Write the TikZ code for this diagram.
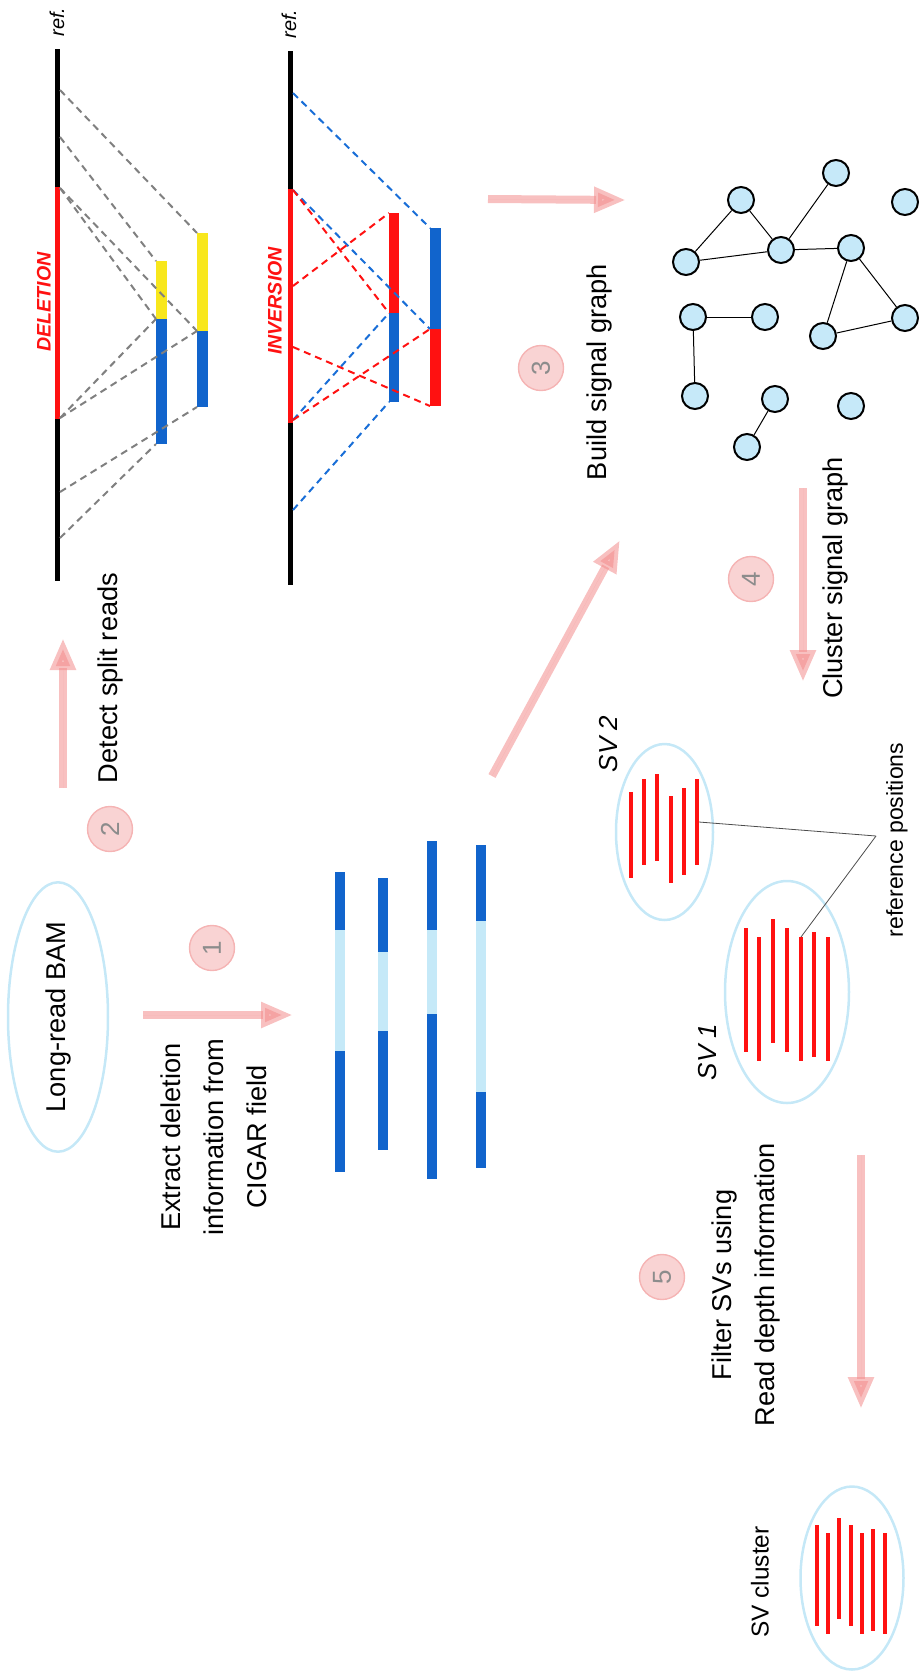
\documentclass[tikz,border=0pt]{standalone}
\usepackage{fontspec}
\setmainfont{Liberation Sans}
\usetikzlibrary{shapes.geometric,arrows.meta}
\definecolor{dblue}{RGB}{17,100,204}
\definecolor{lblue}{RGB}{197,233,248}
\definecolor{yel}{RGB}{248,231,28}
\definecolor{sred}{RGB}{255,17,17}
\definecolor{ellc}{RGB}{197,232,247}
\definecolor{gfill}{RGB}{198,233,249}
\definecolor{pinkc}{RGB}{242,140,140}
\definecolor{numfill}{RGB}{249,211,211}
\definecolor{numdraw}{RGB}{245,180,180}
\definecolor{numtext}{RGB}{140,140,140}
\definecolor{dgray}{RGB}{128,128,128}
\definecolor{dashblue}{RGB}{25,110,215}
\begin{document}
\begin{tikzpicture}[x=0.5pt,y=-0.5pt,
  txt/.style={rotate=90, font=\fontsize{13.6}{21.5}\selectfont, align=center, inner sep=0pt},
  smalltxt/.style={rotate=90, font=\fontsize{11.5}{14}\selectfont, inner sep=0pt},
  svlabel/.style={rotate=90, font=\fontsize{13}{14}\selectfont\itshape, inner sep=0pt},
  reflabel/.style={rotate=90, font=\fontsize{10}{12}\selectfont\itshape, inner sep=0pt},
  svname/.style={rotate=90, text=sred, font=\fontsize{9.8}{12}\selectfont\bfseries\itshape, inner sep=0pt},
  num/.style={circle, draw=numdraw, fill=numfill, line width=0.7pt, minimum size=22.5pt, inner sep=0pt, rotate=90, text=numtext, font=\fontsize{13}{13}\selectfont},
  gnode/.style={circle, draw=black, line width=1pt, fill=gfill, minimum size=13pt, inner sep=0pt},
  gedge/.style={line width=0.5pt},
  refline/.style={line width=2.5pt},
  dlink/.style={line width=1pt, dash pattern=on 3.5pt off 2.5pt},
  pinkarrow/.style={line width=4pt, draw=pinkc, fill=pinkc, opacity=0.55, -{Triangle[length=16pt,width=12pt]}},
  ellip/.style={ellipse, draw=ellc, line width=1.25pt, inner sep=0pt},
  svbar/.style={line width=2pt, draw=sred},
  cigar/.style={line width=4.6pt},
  leader/.style={line width=0.4pt, draw=black!70}
]
\useasboundingbox (0,0) rectangle (919,1677);

% ---------------- Deletion panel ----------------
\coordinate (dtop) at (57,49); \coordinate (dbot) at (57,581);
\coordinate (dsa) at (57,187); \coordinate (dea) at (57,419);
\draw[refline] (dtop) -- (dbot);
\draw[refline, draw=sred] (dsa) -- (dea);
\node[reflabel] (ref1) at (57,22) {ref.};
\node[svname] (del) at (44,302) {DELETION};
% reads
\fill[yel] (156,261) rectangle (167,319);
\fill[dblue] (156,319) rectangle (167,444);
\fill[yel] (197,233) rectangle (208,331);
\fill[dblue] (197,331) rectangle (208,407);
\coordinate (d1a) at (156,261); \coordinate (d1b) at (156,319); \coordinate (d1c) at (156,444);
\coordinate (d2a) at (197,233); \coordinate (d2b) at (197,331); \coordinate (d2c) at (197,407);
\coordinate (r1) at (60,90); \coordinate (r2) at (60,137); \coordinate (ds) at (60,188);
\coordinate (de) at (60,418); \coordinate (r3) at (60,492); \coordinate (r4) at (60,538);
\begin{scope}[dlink, draw=dgray]
\draw (r1) -- (d2a);
\draw (r2) -- (d1a);
\draw (ds) -- (d1b);
\draw (ds) -- (d2b);
\draw (de) -- (d1b);
\draw (de) -- (d2b);
\draw (r3) -- (d2c);
\draw (r4) -- (d1c);
\end{scope}

% ---------------- Inversion panel ----------------
\coordinate (itop) at (290,51); \coordinate (ibot) at (290,585);
\coordinate (isa) at (290,189); \coordinate (iea) at (290,423);
\draw[refline] (itop) -- (ibot);
\draw[refline, draw=sred] (isa) -- (iea);
\node[reflabel] (ref2) at (289,24) {ref.};
\node[svname] (inv) at (275,301) {INVERSION};
\fill[sred] (389,213) rectangle (399,313);
\fill[dblue] (389,313) rectangle (399,402);
\fill[dblue] (430,228) rectangle (441,329);
\fill[sred] (430,329) rectangle (441,406);
\coordinate (v1a) at (389,213); \coordinate (v1b) at (389,313); \coordinate (v1c) at (389,402);
\coordinate (v2a) at (430,228); \coordinate (v2b) at (430,329); \coordinate (v2c) at (430,406);
\coordinate (i1) at (293,93); \coordinate (is) at (293,190); \coordinate (i2) at (293,286);
\coordinate (i3) at (293,347); \coordinate (ie) at (293,420); \coordinate (i4) at (293,510);
\begin{scope}[dlink]
\draw[draw=dashblue] (i1) -- (v2a);
\draw[draw=dashblue] (is) -- (v2b);
\draw[draw=dashblue] (ie) -- (v1b);
\draw[draw=dashblue] (i4) -- (v1c);
\draw[draw=sred] (is) -- (v1b);
\draw[draw=sred] (i2) -- (v1a);
\draw[draw=sred] (i3) -- (v2c);
\draw[draw=sred] (ie) -- (v2b);
\end{scope}

% ---------------- Step texts and numbers ----------------
\node[ellip, rotate=90, minimum width=125pt, minimum height=50pt, font=\fontsize{13.6}{16}\selectfont] (bam) at (58,1017) {Long-read BAM};
\node[num] (c1) at (212,948) {1};
\node[num] (c2) at (110,829) {2};
\node[num] (c3) at (541,368) {3};
\node[num] (c4) at (751,579) {4};
\node[num] (c5) at (662,1277) {5};
\node[txt] (t1) at (214,1137) {Extract deletion\\information from\\CIGAR field};
\node[txt] (t2) at (110,678) {Detect split reads};
\node[txt] (t3) at (599,372) {Build signal graph};
\node[txt] (t4) at (835,578) {Cluster signal graph};
\node[txt] (t5) at (746,1285) {Filter SVs using\\Read depth information};

% ---------------- Pink arrows ----------------
\coordinate (a1s) at (143,1015); \coordinate (a1e) at (293,1015);
\coordinate (a2s) at (63,788);   \coordinate (a2e) at (63,638);
\coordinate (a3s) at (488,199);  \coordinate (a3e) at (626,200);
\coordinate (a6s) at (492,776);  \coordinate (a6e) at (620,540);
\coordinate (a4s) at (803,488);  \coordinate (a4e) at (803,682);
\coordinate (a5s) at (861,1155); \coordinate (a5e) at (861,1409);
\draw[pinkarrow] (a1s) -- (a1e);
\draw[pinkarrow] (a2s) -- (a2e);
\draw[pinkarrow] (a3s) -- (a3e);
\draw[pinkarrow] (a6s) -- (a6e);
\draw[pinkarrow] (a4s) -- (a4e);
\draw[pinkarrow] (a5s) -- (a5e);

% ---------------- CIGAR reads ----------------
\draw[cigar, dblue] (340,872) -- (340,930);
\draw[cigar, lblue] (340,930) -- (340,1051);
\draw[cigar, dblue] (340,1051) -- (340,1172);
\draw[cigar, dblue] (383,878) -- (383,952);
\draw[cigar, lblue] (383,952) -- (383,1031);
\draw[cigar, dblue] (383,1031) -- (383,1150);
\draw[cigar, dblue] (432,841) -- (432,930);
\draw[cigar, lblue] (432,930) -- (432,1014);
\draw[cigar, dblue] (432,1014) -- (432,1179);
\draw[cigar, dblue] (481,845) -- (481,921);
\draw[cigar, lblue] (481,921) -- (481,1092);
\draw[cigar, dblue] (481,1092) -- (481,1168);

% ---------------- Signal graph ----------------
\node[gnode] (n1) at (836,173) {};
\node[gnode] (n2) at (741,200) {};
\node[gnode] (n3) at (905,202) {};
\node[gnode] (n4) at (781,250) {};
\node[gnode] (n5) at (851,248) {};
\node[gnode] (n6) at (686,262) {};
\node[gnode] (n7) at (693,317) {};
\node[gnode] (n8) at (765,317) {};
\node[gnode] (n9) at (905,318) {};
\node[gnode] (n10) at (823,336) {};
\node[gnode] (n11) at (695,396) {};
\node[gnode] (n12) at (775,399) {};
\node[gnode] (n13) at (851,406) {};
\node[gnode] (n14) at (747,447) {};
\draw[gedge] (n6) -- (n2);
\draw[gedge] (n2) -- (n4);
\draw[gedge] (n4) -- (n1);
\draw[gedge] (n6) -- (n4);
\draw[gedge] (n4) -- (n5);
\draw[gedge] (n5) -- (n10);
\draw[gedge] (n5) -- (n9);
\draw[gedge] (n10) -- (n9);
\draw[gedge] (n7) -- (n8);
\draw[gedge] (n7) -- (n11);
\draw[gedge] (n12) -- (n14);

% ---------------- SV clusters ----------------
\node[ellip, minimum width=48.5pt, minimum height=88pt] (sv2) at (664.5,832) {};
\node[ellip, minimum width=62pt, minimum height=111pt] (sv1) at (787,992) {};
\node[ellip, minimum width=51.5pt, minimum height=91.5pt] (svc) at (852,1578) {};
\node[svlabel] (l2) at (609,744) {SV 2};
\node[svlabel] (l1) at (708,1052) {SV 1};
\node[rotate=90, font=\fontsize{12.2}{14}\selectfont, inner sep=0pt] (lc) at (760,1582) {SV cluster};
% SV 2 bars
\draw[svbar] (631,792) -- (631,878);
\draw[svbar] (644,779) -- (644,865);
\draw[svbar] (657,774) -- (657,861);
\draw[svbar] (671,796) -- (671,883);
\draw[svbar] (684,788) -- (684,875);
\draw[svbar] (697,779) -- (697,865);
% SV 1 bars
\draw[svbar] (746,928) -- (746,1052);
\draw[svbar] (759,937) -- (759,1061);
\draw[svbar] (773,919) -- (773,1043);
\draw[svbar] (787,928) -- (787,1052);
\draw[svbar] (801,937) -- (801,1061);
\draw[svbar] (814,932) -- (814,1057);
\draw[svbar] (828,937) -- (828,1061);
% cluster bars
\draw[svbar] (817,1525) -- (817,1626);
\draw[svbar] (828,1533) -- (828,1634);
\draw[svbar] (839,1518) -- (839,1619);
\draw[svbar] (851,1525) -- (851,1626);
\draw[svbar] (862,1533) -- (862,1634);
\draw[svbar] (873,1529) -- (873,1631);
\draw[svbar] (885,1533) -- (885,1634);
% reference positions
\node[smalltxt] (rp) at (897,840) {reference positions};
\coordinate (lp) at (876,836);
\coordinate (sv2pt) at (699,822);
\coordinate (sv1pt) at (801,937);
\draw[leader] (lp) -- (sv2pt);
\draw[leader] (lp) -- (sv1pt);
\end{tikzpicture}
\end{document}
